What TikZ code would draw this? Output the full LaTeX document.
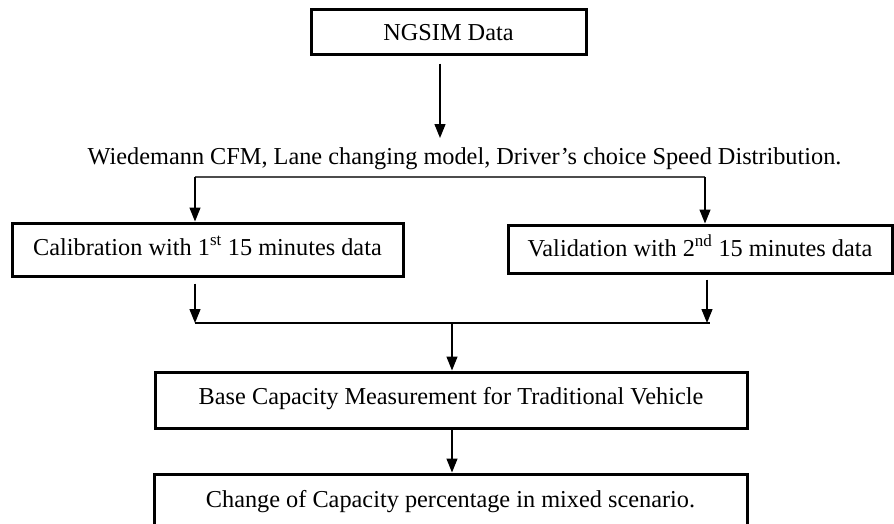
\documentclass[tikz,border=0pt]{standalone}
\usepackage{fontspec}
\setmainfont{Liberation Serif}
\usetikzlibrary{arrows.meta}
\begin{document}
\begin{tikzpicture}[x=1pt,y=-1pt,
  font=\fontsize{24.3}{28}\selectfont,
  boxnode/.style={draw=black, line width=3pt, inner sep=0pt, text height=17pt, align=center},
  arr/.style={draw=black, line width=1.3pt, -{Triangle[width=11pt,length=14pt]}},
  hline/.style={draw=black!70, line width=1.4pt},
  jline/.style={draw=black, line width=1.6pt}]
\useasboundingbox (0,0) rectangle (894,523);
\clip (0,0) rectangle (894,523);
\node[boxnode, minimum width=275pt, minimum height=45pt, text depth=0pt] (ngsim) at (448.5,31.5) {NGSIM Data};
\node[inner sep=0pt, anchor=base] (models) at (464.6,164) {Wiedemann CFM, Lane changing model, Driver’s choice Speed Distribution.};
\node[boxnode, minimum width=391pt, minimum height=53pt, text depth=6pt] (calib) at (207.5,249.5) {Calibration with 1\textsuperscript{st} 15 minutes data};
\node[boxnode, minimum width=384pt, minimum height=48pt, text depth=3pt] (valid) at (700,249) {Validation with 2\textsuperscript{nd} 15 minutes data};
\node[boxnode, minimum width=592pt, minimum height=56pt, text depth=9pt] (base) at (451,400) {Base Capacity Measurement for Traditional Vehicle};
\node[boxnode, minimum width=593pt, minimum height=52pt, text depth=3pt] (change) at (450.5,500) {Change of Capacity percentage in mixed scenario.};
\coordinate (top) at (440,138);
\coordinate (sl) at (195,177);
\coordinate (sr) at (705,177);
\coordinate (jl) at (195,323);
\coordinate (jr) at (707,323);
\coordinate (jm) at (452,323);
\draw[arr, shorten <=8pt] (ngsim.south -| top) -- (top);
\draw[hline] (sl) -- (sr);
\draw[arr] (sl) -- (sl |- calib.north);
\draw[arr] (sr) -- (sr |- valid.north);
\draw[arr, shorten <=6pt] (calib.south -| jl) -- (jl);
\draw[arr, shorten <=5pt] (valid.south -| jr) -- (jr);
\draw[jline] (jl) -- ([xshift=3pt]jr);
\draw[arr] (jm) -- (base.north -| jm);
\draw[arr] (base.south -| jm) -- (change.north -| jm);
\end{tikzpicture}
\end{document}
